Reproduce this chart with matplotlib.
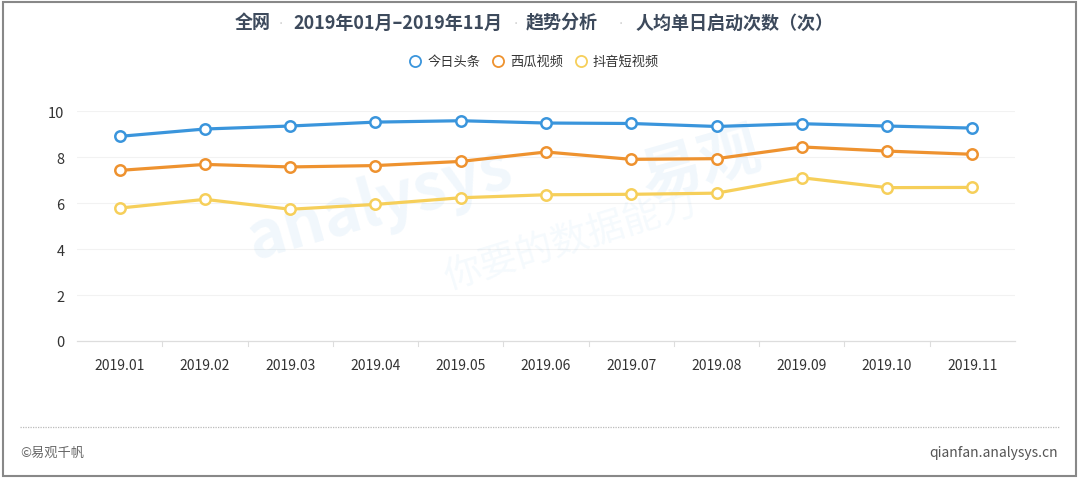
import matplotlib
matplotlib.use('Agg')
import matplotlib.pyplot as plt
from matplotlib.patches import Rectangle
from matplotlib.lines import Line2D

plt.rcParams['font.family'] = ['Noto Sans CJK SC', 'DejaVu Sans']

# 数据
months = ['2019.01', '2019.02', '2019.03', '2019.04', '2019.05', '2019.06',
          '2019.07', '2019.08', '2019.09', '2019.10', '2019.11']
toutiao = [8.90, 9.22, 9.35, 9.52, 9.58, 9.48, 9.46, 9.33, 9.45, 9.35, 9.26]
xigua = [7.42, 7.68, 7.57, 7.63, 7.81, 8.22, 7.90, 7.93, 8.44, 8.26, 8.12]
douyin = [5.78, 6.16, 5.73, 5.94, 6.23, 6.36, 6.38, 6.43, 7.10, 6.67, 6.68]
series_names = ['今日头条', '西瓜视频', '抖音短视频']
colors = ['#3a95dc', '#ee922f', '#f6cf5a']
yticks = [0, 2, 4, 6, 8, 10]

fig = plt.figure(figsize=(10.8, 4.81), dpi=100)
ax = fig.add_axes([0.0713, 0.289, 0.8685, 0.478])

x = list(range(len(months)))
for vals, c in zip([toutiao, xigua, douyin], colors):
    ax.plot(x, vals, color=c, lw=2.3, marker='o', markersize=7.5,
            markerfacecolor='white', markeredgecolor=c, markeredgewidth=1.8,
            clip_on=False, zorder=3)

ax.set_xlim(-0.5, len(months) - 0.5)
ax.set_ylim(0, 10)
ax.set_yticks(yticks)
ax.set_yticklabels([str(v) for v in yticks], fontsize=10.5, color='#333333')
ax.set_xticks(x)
ax.set_xticklabels(months, fontsize=10, color='#333333')
ax.tick_params(axis='y', length=0, pad=9)
ax.tick_params(axis='x', length=0, pad=12)
# 类目分隔刻度
for b in range(1, len(months)):
    ax.plot([b - 0.5, b - 0.5], [0, -0.22], color='#dddddd', lw=0.8,
            clip_on=False, zorder=1)
for yv in yticks[1:]:
    ax.axhline(yv, color='#f2f2f2', lw=0.8, zorder=0)
for s in ['top', 'right', 'left']:
    ax.spines[s].set_visible(False)
ax.spines['bottom'].set_color('#dddddd')
ax.spines['bottom'].set_linewidth(0.9)

# 水印
ax.text(0.323, 0.6, 'analysys', transform=ax.transAxes, fontsize=46,
        fontweight='bold', color='#3a95dc', alpha=0.07, rotation=16,
        ha='center', va='center', zorder=0)
ax.text(0.665, 0.77, '易观', transform=ax.transAxes, fontsize=44,
        fontweight='bold', color='#3a95dc', alpha=0.07, rotation=16,
        ha='center', va='center', zorder=0)
ax.text(0.526, 0.44, '你要的数据能力', transform=ax.transAxes, fontsize=27,
        color='#3a95dc', alpha=0.05, rotation=17,
        ha='center', va='center', zorder=0)

# 标题
title_parts = [('全网', 253), ('2019年01月–2019年11月', 398), ('趋势分析', 562),
               ('人均单日启动次数（次）', 735)]
for txt, px in title_parts:
    fig.text(px / 1080, 1 - 23 / 481, txt, fontsize=13, fontweight='bold',
             color='#3d4a5c', ha='center', va='center')
for px in [281, 516, 621]:
    fig.text(px / 1080, 1 - 24 / 481, '•', fontsize=6, color='#cccccc',
             ha='center', va='center')

# 图例
legend_items = [(415, 428), (498, 510), (581, 593)]
for name, c, (cx, tx) in zip(series_names, colors, legend_items):
    fig.lines.append(Line2D([cx / 1080], [1 - 62 / 481], marker='o',
                            markersize=8, markerfacecolor='white',
                            markeredgecolor=c, markeredgewidth=1.3,
                            transform=fig.transFigure))
    fig.text(tx / 1080, 1 - 62 / 481, name, fontsize=9.5, color='#333333',
             ha='left', va='center')

# 底部
fig.lines.append(Line2D([20 / 1080, 1060 / 1080], [1 - 428 / 481, 1 - 428 / 481],
                        color='#bbbbbb', lw=0.9, linestyle=(0, (1, 1)),
                        transform=fig.transFigure))
fig.text(20 / 1080, 1 - 453 / 481, '©易观千帆', fontsize=9.5, color='#666666',
         ha='left', va='center')
fig.text(1058 / 1080, 1 - 453 / 481, 'qianfan.analysys.cn', fontsize=10,
         color='#555555', ha='right', va='center')

# 外框
fig.patches.append(Rectangle((3 / 1080, 4 / 481), 1073 / 1080, 474 / 481,
                             fill=False, edgecolor='#888888', lw=1.5,
                             transform=fig.transFigure))

fig.savefig('out.png', dpi=100, facecolor='white')
